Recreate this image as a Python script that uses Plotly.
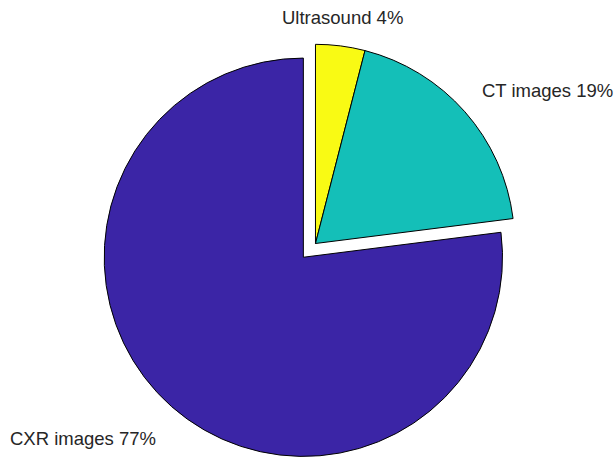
import math
import plotly.graph_objects as go

labels = ["CXR images", "CT images", "Ultrasound"]
values = [77, 19, 4]
pct_text = ["77%", "19%", "4%"]
pulls = [0.092, 0, 0]
colors = ["#3B25A6", "#14BFB8", "#F9FA14"]

W, H = 614, 461
M_T, M_B, M_L, M_R = 26, 0, 0, 0
dom_x = [0.1538, 0.8738]

# MATLAB order: counterclockwise from 12 o'clock == clockwise with reversed order
fig = go.Figure(go.Pie(
    labels=labels[::-1],
    values=values[::-1],
    pull=pulls[::-1],
    sort=False,
    direction="clockwise",
    rotation=0,
    textinfo="none",
    marker=dict(colors=colors[::-1], line=dict(color="black", width=1)),
    domain=dict(x=dom_x, y=[0, 1]),
    showlegend=False,
))

# Label placement derived from slice angles (MATLAB-like, 1.1 radius)
plot_h = H - M_T - M_B
plot_w = W - M_L - M_R
cx = M_L + plot_w * (dom_x[0] + dom_x[1]) / 2
cy = M_T + plot_h / 2
r = min(plot_w * (dom_x[1] - dom_x[0]), plot_h) / (2 * (1 + max(pulls)))
total = sum(values)
cum = 0
annotations = []
for lab, v, p, pt in zip(labels, values, pulls, pct_text):
    mid = 90 + (cum + v / 2) / total * 360
    cum += v
    a = math.radians(mid)
    c, s = math.cos(a), math.sin(a)
    ox, oy = cx + p * r * c, cy - p * r * s
    px, py = ox + 1.1 * r * c, oy - 1.1 * r * s
    if abs(c) < 0.3:
        xa = "center"
    elif c > 0:
        xa = "left"
    else:
        xa = "right"
    ya = "bottom" if s > 0 else "top"
    annotations.append(dict(
        x=(px - M_L) / plot_w, y=1 - (py - M_T) / plot_h,
        xref="paper", yref="paper", xanchor=xa, yanchor=ya, yshift=-4,
        text=f"{lab} {pt}", showarrow=False,
        font=dict(family="Liberation Sans, Arial, sans-serif", size=18.5, color="#262626"),
    ))

fig.update_layout(
    width=W, height=H,
    margin=dict(l=M_L, r=M_R, t=M_T, b=M_B, pad=0),
    paper_bgcolor="white", plot_bgcolor="white",
    annotations=annotations,
)

fig.write_html(
    "out.html",
    config={"displayModeBar": False},
    post_script="document.body.style.margin='0';document.body.style.overflow='hidden';",
)
